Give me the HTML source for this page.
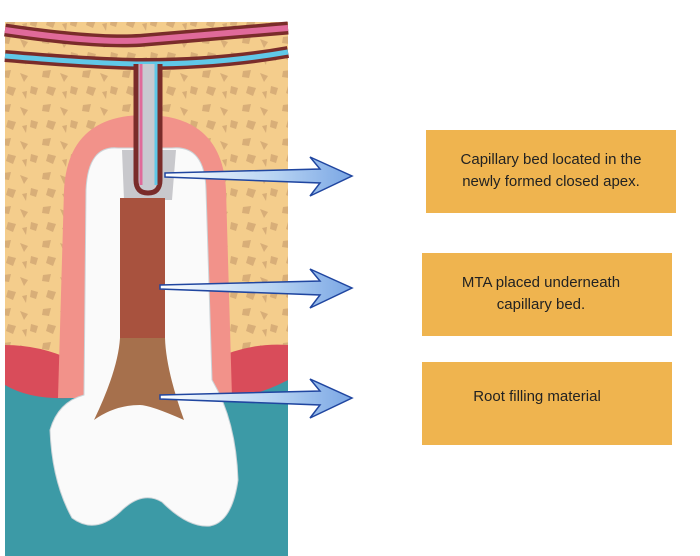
<!DOCTYPE html>
<html><head><style>
html,body{margin:0;padding:0;background:#fff;width:700px;height:556px;overflow:hidden}
.b{position:absolute;background:#efb44f;font-family:"Liberation Sans",sans-serif;font-size:15px;color:#222;line-height:22px;text-align:center}
</style></head><body>
<svg width="700" height="556" style="position:absolute;left:0;top:0">
<defs>
<linearGradient id="ar" x1="0" x2="1"><stop offset="0" stop-color="#fff"/><stop offset="0.6" stop-color="#b5d2f2"/><stop offset="1" stop-color="#7aa6e4"/></linearGradient>
<pattern id="bone" width="40" height="34" patternUnits="userSpaceOnUse">
<rect width="40" height="34" fill="#f4cd8c"/>
<polygon points="3,3 11,2 9,10 2,9" fill="#d8ae78"/>
<polygon points="20,5 28,8 24,14" fill="#d8ae78"/>
<polygon points="31,18 38,20 36,27 30,25" fill="#d8ae78"/>
<polygon points="8,18 16,20 13,28 6,25" fill="#d8ae78"/>
<polygon points="22,24 27,23 26,31" fill="#d8ae78"/>
</pattern>
</defs>
<rect x="5" y="22" width="283" height="534" fill="url(#bone)"/>
<rect x="5" y="372" width="283" height="184" fill="#3c9aa6"/>
<!-- gum -->
<path d="M5,345 Q40,345 72,360 L72,398 Q30,400 5,385Z" fill="#d94c5a"/>
<path d="M212,360 Q250,342 288,345 L288,380 Q250,400 215,398Z" fill="#d94c5a"/>
<!-- vessels -->
<path d="M5,30 Q100,44 145,40 Q220,34 288,28" stroke="#7a2c2a" stroke-width="13" fill="none"/>
<path d="M5,30 Q100,44 145,40 Q220,34 288,28" stroke="#e06a9a" stroke-width="6" fill="none"/>
<path d="M5,56 Q100,64 145,64 Q220,64 288,52" stroke="#7a2c2a" stroke-width="12" fill="none"/>
<path d="M5,56 Q100,64 145,64 Q220,64 288,52" stroke="#60c8e8" stroke-width="5" fill="none"/>
<!-- PDL pink -->
<path d="M58,398 L64,190 Q68,115 145,115 Q222,115 226,190 L232,398Z" fill="#f2928a"/>
<!-- root white -->
<path d="M84,395 L86,190 Q88,145 118,148 L172,148 Q205,145 206,190 L212,380 Q236,420 238,480 Q232,522 210,526 Q188,528 162,502 Q142,490 120,512 Q95,535 72,518 Q52,482 50,430 Q58,402 84,395Z" fill="#fafafa" stroke="#ccd4d8"/>
<path d="M122,150 L124,200 L172,200 L176,150Z" fill="#c8c8cc"/>
<rect x="120" y="198" width="45" height="140" fill="#a8523e"/>
<path d="M120,338 L165,338 Q166,370 184,420 Q150,405 140,405 Q115,405 94,420 Q118,370 120,338Z" fill="#a6704c"/>
<!-- vessel loop -->
<path d="M136,64 L136,180 Q136,193 148,193 Q160,193 160,180 L160,64" stroke="#7a2c2a" stroke-width="5" fill="#c9c9d0"/>
<path d="M141,64 L141,185" stroke="#e06a9a" stroke-width="3"/>
<path d="M156,64 L156,185" stroke="#60c8e8" stroke-width="3"/>
<!-- arrows -->
<g fill="url(#ar)" stroke="#2046a0" stroke-width="1.5">
<path d="M165,173 L320,169 L310,157 L352,176 L310,196 L320,183 L165,177Z"/>
<path d="M160,285 L320,281 L310,269 L352,288 L310,308 L320,295 L160,289Z"/>
<path d="M160,395 L320,391 L310,379 L352,398 L310,418 L320,405 L160,399Z"/>
</g>
</svg>
<div class="b" style="left:426px;top:130px;width:250px;height:83px;"><div style="padding-top:19px">Capillary bed located in the<br>newly formed closed apex.</div></div>
<div class="b" style="left:422px;top:253px;width:250px;height:83px;"><div style="padding-top:19px;margin-left:-12px">MTA placed underneath<br>capillary bed.</div></div>
<div class="b" style="left:422px;top:362px;width:250px;height:83px;"><div style="padding-top:24px;margin-left:-20px">Root filling material</div></div>
</body></html>
